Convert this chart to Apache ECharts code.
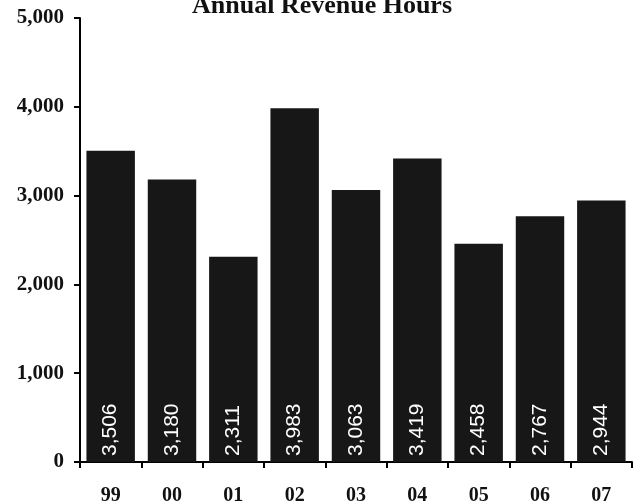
<!DOCTYPE html>
<html>
<head>
<meta charset="utf-8">
<script src="https://cdn.jsdelivr.net/npm/echarts@6/dist/echarts.min.js"></script>
<style>
  html, body { margin: 0; padding: 0; background: #fff; }
  #chart { width: 634px; height: 503px; }
</style>
</head>
<body>
<div id="chart"></div>
<script>
const years = ['99', '00', '01', '02', '03', '04', '05', '06', '07']
const revenueHours = [3506, 3180, 2311, 3983, 3063, 3419, 2458, 2767, 2944]

const serif = '"Liberation Serif", "Times New Roman", serif'
const fmt = v => v.toLocaleString('en-US')

const chart = echarts.init(document.getElementById('chart'))

chart.setOption({
  backgroundColor: '#fff',
  animation: false,
  title: {
    text: 'Annual Revenue Hours',
    left: 317,
    textAlign: 'center',
    top: -12,
    textStyle: { fontFamily: serif, fontWeight: 'bold', fontSize: 26, color: '#111' }
  },
  grid: { left: 80, right: 2, top: 18, bottom: 41, outerBoundsMode: 'none', containLabel: false },
  xAxis: {
    type: 'category',
    data: years,
    axisLine: { lineStyle: { color: '#000', width: 2 } },
    axisTick: { show: true, length: 6, lineStyle: { color: '#000', width: 2 } },
    axisLabel: { fontFamily: serif, fontWeight: 'bold', fontSize: 20, color: '#111', margin: 24 }
  },
  yAxis: {
    type: 'value',
    min: 0,
    max: 5000,
    interval: 1000,
    axisLine: { show: true, lineStyle: { color: '#000', width: 2 } },
    axisTick: { show: true, length: 6, lineStyle: { color: '#000', width: 2 } },
    splitLine: { show: false },
    axisLabel: { fontFamily: serif, fontWeight: 'bold', fontSize: 21, color: '#111', margin: 16, formatter: fmt }
  },
  series: [{
    type: 'bar',
    data: revenueHours,
    barWidth: '79%',
    itemStyle: { color: '#171717' },
    label: {
      show: true,
      position: 'insideBottom',
      rotate: 90,
      align: 'left',
      verticalAlign: 'middle',
      distance: 6,
      color: '#fff',
      fontFamily: '"Liberation Sans", Arial, sans-serif',
      fontSize: 21,
      formatter: p => fmt(p.value)
    }
  }]
})
</script>
</body>
</html>
